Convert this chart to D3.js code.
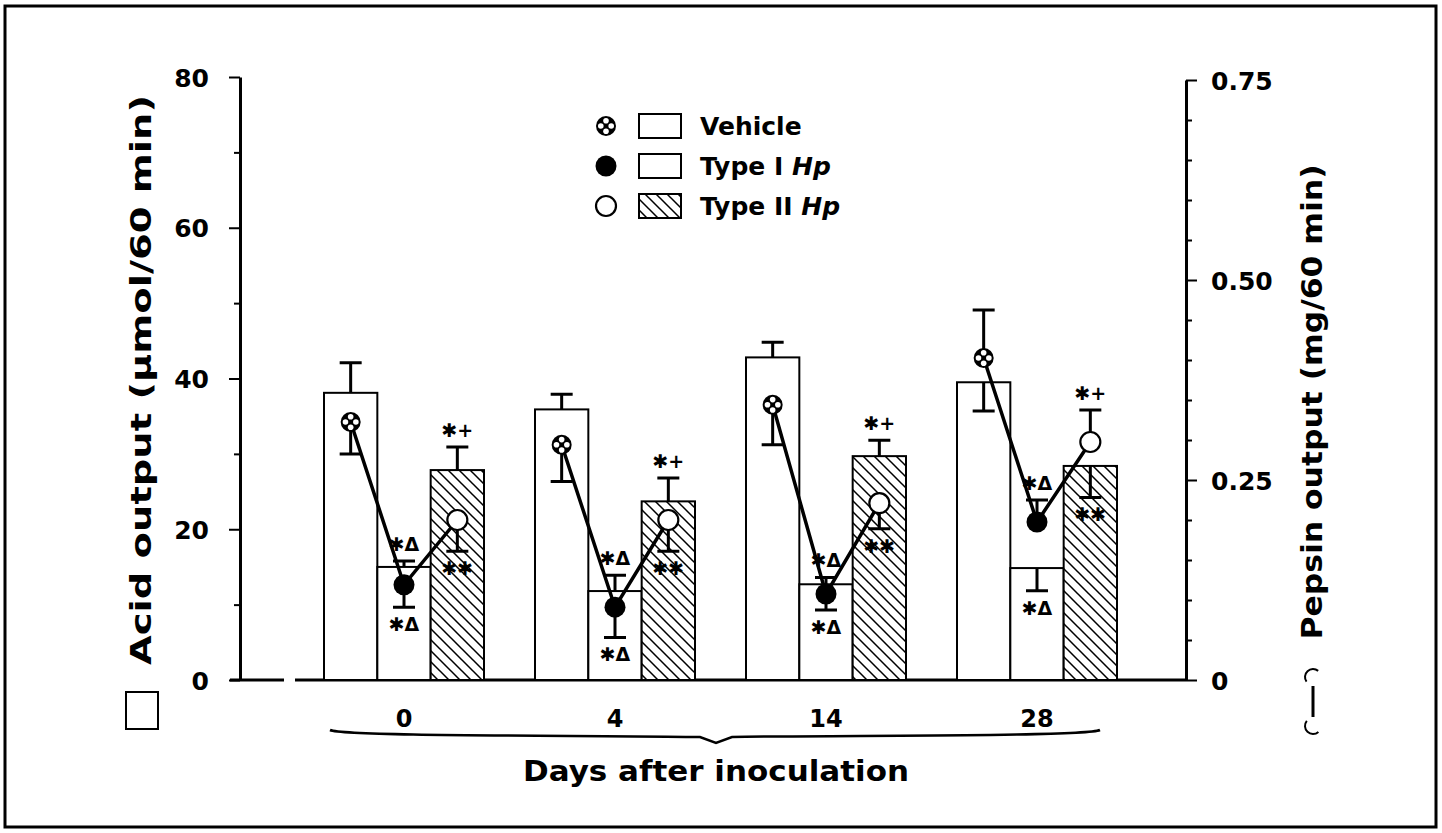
<!DOCTYPE html>
<html>
<head>
<meta charset="utf-8">
<script src="https://cdn.jsdelivr.net/npm/d3@7"></script>
<style>
body { margin: 0; background: #fff; }
text { font-family: 'DejaVu Sans', sans-serif; font-weight: bold; fill: #000; }
</style>
</head>
<body>
<script>
// days after inoculation and groups
var days = ['0', '4', '14', '28'];
var groups = ['Vehicle', 'Type I Hp', 'Type II Hp'];

// acid output, umol/60 min (bars)
var acidVehicle = [38.1, 35.9, 42.8, 39.5];
var acidTypeI = [15.0, 11.8, 12.7, 14.85];
var acidTypeII = [27.85, 23.7, 29.7, 28.4];
var acidVehicleSE = [4.0, 2.0, 2.0, 3.8];
var acidTypeISE = [0.8, 2.1, 0.9, 3.0];
var acidTypeIISE = [3.05, 3.1, 2.1, 4.2];

// pepsin output, mg/60 min (points)
var pepVehicle = [0.3225, 0.294, 0.344, 0.4025];
var pepTypeI = [0.119, 0.091, 0.1075, 0.1975];
var pepTypeII = [0.20, 0.20, 0.221, 0.2975];
var pepVehicleSE = [0.04, 0.046, 0.05, 0.06];
var pepTypeISE = [0.028, 0.038, 0.02, 0.0275];
var pepTypeIISE = [0.039, 0.039, 0.032, 0.04];

// significance marks (above / below)
var marksTop = ['', '\u2731\u0394', '\u2731+'];
var marksBottom = ['', '\u2731\u0394', '\u2731\u2731'];

var acidTicks = [0, 10, 20, 30, 40, 50, 60, 70, 80];
var pepTicks = d3.range(16).map(i => i * 0.05);

var acid = [acidVehicle, acidTypeI, acidTypeII];
var acidSE = [acidVehicleSE, acidTypeISE, acidTypeIISE];
var pep = [pepVehicle, pepTypeI, pepTypeII];
var pepSE = [pepVehicleSE, pepTypeISE, pepTypeIISE];

var rows = days.map((d, i) => groups.map((g, j) => ({
    day: d, group: g, k: j,
    acid: acid[j][i], acidSE: acidSE[j][i],
    pep: pep[j][i], pepSE: pepSE[j][i]
})));

// on day 28 the error bars are drawn the other way
var flipped = d => d === '28';

var width = 1442, height = 833;
var svg = d3.select('body').append('svg')
    .attr('width', width)
    .attr('height', height);

var defs = svg.append('defs');
var pat = defs.append('pattern')
    .attr('id', 'hatch')
    .attr('patternUnits', 'userSpaceOnUse')
    .attr('width', 11).attr('height', 11);
pat.append('rect').attr('width', 11).attr('height', 11).attr('fill', '#fff');
pat.append('path')
    .attr('d', 'M-2,-2L13,13M-3,8L3,14M8,-3L14,3')
    .attr('stroke', '#000')
    .attr('stroke-width', 1.5);

// frame
svg.append('rect')
    .attr('x', 5).attr('y', 6)
    .attr('width', 1431).attr('height', 821)
    .attr('fill', 'none')
    .attr('stroke', '#000')
    .attr('stroke-width', 3);

var x0 = d3.scalePoint().domain(days).range([404, 1037]);
var x1 = d3.scaleBand().domain(groups).range([-80, 80]);
var yAcid = d3.scaleLinear().domain([0, 80]).range([680, 77]);
var yPep = d3.scaleLinear().domain([0, 0.75]).range([680, 80]);
var bw = x1.bandwidth();
var cx = d => x0(d.day) + x1(d.group) + bw / 2;

// left axis
var gL = svg.append('g')
    .attr('transform', 'translate(240,0)')
    .call(d3.axisLeft(yAcid).tickValues(acidTicks).tickSize(10).tickSizeOuter(0)
        .tickFormat(d => d % 20 === 0 ? d : ''));
gL.select('.domain').attr('stroke-width', 3);
gL.selectAll('.tick line')
    .attr('stroke-width', 2)
    .attr('x2', d => d % 20 === 0 ? -11 : -6);
gL.selectAll('.tick text')
    .attr('x', -31)
    .attr('dy', '0.36em')
    .style('font-size', '25px');

// right axis
var isMajor = d => Math.abs(d * 4 - Math.round(d * 4)) < 1e-6;
var gR = svg.append('g')
    .attr('transform', 'translate(1186,0)')
    .call(d3.axisRight(yPep).tickValues(pepTicks).tickSize(10).tickSizeOuter(0)
        .tickFormat(d => isMajor(d) ? (d < 1e-6 ? '0' : d3.format('.2f')(d)) : ''));
gR.select('.domain').attr('stroke-width', 3);
gR.selectAll('.tick line')
    .attr('stroke-width', 2)
    .attr('x2', d => isMajor(d) ? 11 : 6);
gR.selectAll('.tick text')
    .attr('x', 25)
    .attr('dy', '0.36em')
    .style('font-size', '25px');

// baseline (with the small break near the left)
svg.append('path')
    .attr('d', 'M230,680H284M295,680H1186')
    .attr('stroke', '#000')
    .attr('stroke-width', 3);

// bars
var gBars = svg.append('g');
var allRows = rows.flat();
gBars.selectAll('rect')
    .data(allRows)
    .enter().append('rect')
    .attr('x', d => x0(d.day) + x1(d.group))
    .attr('y', d => yAcid(d.acid))
    .attr('width', bw)
    .attr('height', d => yAcid(0) - yAcid(d.acid))
    .attr('fill', d => d.k === 2 ? 'url(#hatch)' : '#fff')
    .attr('stroke', '#000')
    .attr('stroke-width', 2);

function errPath(x, y0, y1) {
    return 'M' + x + ',' + y0 + 'V' + y1 + 'M' + (x - 11) + ',' + y1 + 'H' + (x + 11);
}
var acidEnd = d => yAcid(flipped(d.day) ? d.acid - d.acidSE : d.acid + d.acidSE);
var pepEnd = d => yPep(flipped(d.day) ? d.pep + d.pepSE : d.pep - d.pepSE);

svg.append('g').selectAll('path')
    .data(allRows)
    .enter().append('path')
    .attr('d', d => errPath(cx(d), yAcid(d.acid), acidEnd(d)))
    .attr('stroke', '#000')
    .attr('stroke-width', 3)
    .attr('fill', 'none');

svg.append('g').selectAll('path')
    .data(allRows)
    .enter().append('path')
    .attr('d', d => errPath(cx(d), yPep(d.pep), pepEnd(d)))
    .attr('stroke', '#000')
    .attr('stroke-width', 3)
    .attr('fill', 'none');

// pepsin lines, one per day
var line = d3.line().x(cx).y(d => yPep(d.pep));
svg.append('g').selectAll('path')
    .data(rows)
    .enter().append('path')
    .attr('d', line)
    .attr('fill', 'none')
    .attr('stroke', '#000')
    .attr('stroke-width', 3.5);

function drawMarker(sel, k) {
    if (k === 0) {
        sel.append('circle').attr('r', 10).attr('fill', '#000');
        [[0, -5.2], [5.2, 0], [0, 5.2], [-5.2, 0]].forEach(p => {
            sel.append('circle').attr('cx', p[0]).attr('cy', p[1]).attr('r', 2.8).attr('fill', '#fff');
        });
    } else if (k === 1) {
        sel.append('circle').attr('r', 10.5).attr('fill', '#000');
    } else {
        sel.append('circle').attr('r', 10).attr('fill', '#fff')
            .attr('stroke', '#000').attr('stroke-width', 2.2);
    }
}

svg.append('g').selectAll('g')
    .data(allRows)
    .enter().append('g')
    .attr('transform', d => 'translate(' + cx(d) + ',' + yPep(d.pep) + ')')
    .each(function(d) { drawMarker(d3.select(this), d.k); });

// significance marks
var marks = svg.append('g').style('font-size', '19px').attr('text-anchor', 'middle');
allRows.filter(d => d.k > 0).forEach(d => {
    var top = Math.min(acidEnd(d), pepEnd(d), yPep(d.pep) - 12, yAcid(d.acid));
    var bot = flipped(d.day) ? acidEnd(d) : pepEnd(d);
    marks.append('text')
        .attr('x', cx(d)).attr('y', top - 17).attr('dy', '0.36em')
        .text(marksTop[d.k]);
    marks.append('text')
        .attr('x', cx(d)).attr('y', bot + 17).attr('dy', '0.36em')
        .text(marksBottom[d.k]);
});

// x labels
svg.append('g').selectAll('text')
    .data(days)
    .enter().append('text')
    .attr('x', d => x0(d))
    .attr('y', 718)
    .attr('dy', '0.36em')
    .attr('text-anchor', 'middle')
    .style('font-size', '24px')
    .text(d => d);

// brace
svg.append('path')
    .attr('d', 'M330,730C345,737 600,735 700,737L716,743L732,737C830,735 1085,737 1100,730')
    .attr('fill', 'none')
    .attr('stroke', '#000')
    .attr('stroke-width', 2.5);

svg.append('text')
    .attr('x', 716).attr('y', 771).attr('dy', '0.36em')
    .attr('text-anchor', 'middle')
    .attr('textLength', 386)
    .attr('lengthAdjust', 'spacingAndGlyphs')
    .style('font-size', '29px')
    .text('Days after inoculation');

// axis titles
svg.append('text')
    .attr('transform', 'translate(141,380) rotate(-90)')
    .attr('dy', '0.36em')
    .attr('text-anchor', 'middle')
    .attr('textLength', 570)
    .attr('lengthAdjust', 'spacingAndGlyphs')
    .style('font-size', '29px')
    .text('Acid output (\u00B5mol/60 min)');

svg.append('text')
    .attr('transform', 'translate(1312,402) rotate(-90)')
    .attr('dy', '0.36em')
    .attr('text-anchor', 'middle')
    .attr('textLength', 475)
    .attr('lengthAdjust', 'spacingAndGlyphs')
    .style('font-size', '28px')
    .text('Pepsin output (mg/60 min)');

// key symbols beside the axes
svg.append('rect')
    .attr('x', 126).attr('y', 692)
    .attr('width', 32).attr('height', 37)
    .attr('fill', '#fff').attr('stroke', '#000').attr('stroke-width', 2);

var arc = d3.arc().innerRadius(7).outerRadius(9);
var gk = svg.append('g').attr('transform', 'translate(1313,0)');
gk.append('path').attr('transform', 'translate(0,677)')
    .attr('d', arc({ startAngle: -2.2, endAngle: 0.7 }));
gk.append('path').attr('transform', 'translate(0,726)')
    .attr('d', arc({ startAngle: 2.4, endAngle: 5.4 }));
gk.append('line')
    .attr('x1', 0).attr('x2', 0)
    .attr('y1', 686).attr('y2', 717)
    .attr('stroke', '#000').attr('stroke-width', 3);

// legend
var legend = svg.append('g');
groups.forEach((g, k) => {
    var ly = 126 + k * 40;
    drawMarker(legend.append('g').attr('transform', 'translate(606,' + ly + ')'), k);
    legend.append('rect')
        .attr('x', 639).attr('y', ly - 12)
        .attr('width', 42).attr('height', 24)
        .attr('fill', k === 2 ? 'url(#hatch)' : '#fff')
        .attr('stroke', '#000').attr('stroke-width', 2);
    var t = legend.append('text')
        .attr('x', 700).attr('y', ly).attr('dy', '0.36em')
        .style('font-size', '25px');
    var parts = g.split(' Hp');
    t.append('tspan').text(parts[0]);
    if (parts.length > 1) {
        t.append('tspan').text(' ');
        t.append('tspan').style('font-style', 'italic').text('Hp');
    }
});
</script>
</body>
</html>
